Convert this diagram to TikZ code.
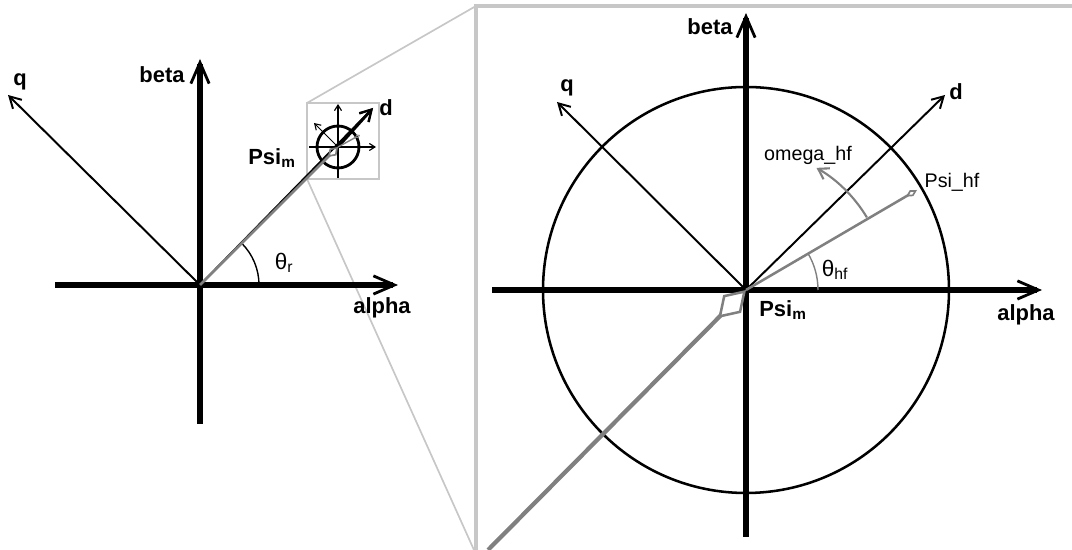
\documentclass[tikz,border=0pt]{standalone}
\usepackage{fontspec}
\setmainfont{Liberation Sans}
\usetikzlibrary{arrows.meta,calc}

\tikzset{
  axis/.style={line width=3.6pt,-{Straight Barb[length=15pt,width=13pt,line width=2pt]}},
  thinaxis/.style={line width=1.4pt,-{Straight Barb[length=8pt,width=9pt,line width=1.4pt]}},
  miniaxis/.style={line width=0.8pt,-{Straight Barb[length=4pt,width=5pt,line width=0.8pt]}},
  flux/.style={draw=gray,line width=1.8pt,-{Diamond[open,length=9pt,width=5pt,line width=1.2pt]}},
  zoomline/.style={draw=black!22,line width=1.2pt},
  lbl/.style={font=\bfseries\fontsize{15.6}{18}\selectfont},
  smalllbl/.style={font=\fontsize{14}{16}\selectfont},
  anglbl/.style={font=\fontsize{16}{18}\selectfont},
}

\begin{document}
\begin{tikzpicture}[x=0.025cm,y=0.025cm]
    \useasboundingbox (0,0) rectangle (1072,550);
    \coordinate (o1) at (200,265);
    \coordinate (s) at (338,403);
    \coordinate (o2) at (746,260);
    \coordinate (sbl) at (307,371);
    \coordinate (str) at (379,447);
    \coordinate (bbl) at (476,0);
    \coordinate (btl) at (476,544);
    \coordinate (btr) at (1072,544);
    \coordinate (zb) at (474,0);
    \draw[zoomline] (sbl) rectangle (str);
    \draw[zoomline] (sbl|-str) -- (btl);
    \draw[zoomline] (sbl) -- (zb);
    \draw[zoomline,line width=2.2pt] (bbl) -- (btl) -- (btr);
    \coordinate (a1l) at (55,265);
    \coordinate (a1r) at (398,265);
    \coordinate (b1b) at (200,126);
    \coordinate (b1t) at (200,491);
    \coordinate (q1) at (8,455);
    \coordinate (d1) at (373,442);
    \draw[axis] (a1l) -- (a1r);
    \draw[axis] (b1b) -- (b1t);
    \draw[thinaxis] (o1) -- (q1);
    \draw[thinaxis] (o1) -- (d1);
    \draw[line width=1pt] (o1) ++(59,0) arc[start angle=0,end angle=45,radius=59];
    \draw[line width=2pt] (s) circle[radius=21];
    \draw[miniaxis] (309,403) -- (376,403);
    \draw[miniaxis] (338,372) -- (338,446);
    \draw[miniaxis,line width=0.6pt] (s) -- (314,427);
    \draw[thinaxis,line width=2pt] (s) -- (d1);
    \draw[flux,line width=1pt,-{Diamond[open,length=4pt,width=3pt,line width=0.6pt]}] (s) -- (360,415);
    \draw[flux,line width=2pt,-{Diamond[open,length=10pt,width=7pt,line width=1.2pt]}] (o1) -- (s);
    \node[lbl] (alpha1) at (382,242) {alpha};
    \node[lbl] (beta1) at (162,475) {beta};
    \node[lbl] (qlbl1) at (20,468) {q};
    \node[lbl] (dlbl1) at (386,442) {d};
    \node[lbl] (psim1) at (272,392) {Psi\textsubscript{m}};
    \node[anglbl] (thr) at (284,287) {θ\textsubscript{r}};
    \coordinate (a2l) at (492,260);
    \coordinate (a2r) at (1042,260);
    \coordinate (b2b) at (746,13);
    \coordinate (b2t) at (746,537);
    \coordinate (q2) at (557,448);
    \coordinate (d2) at (945,455);
    \coordinate (p2) at (917,360);
    \coordinate (pm0) at (488,0);
    \draw[line width=1.8pt] (o2) circle[radius=203];
    \draw[axis] (a2l) -- (a2r);
    \draw[axis] (b2b) -- (b2t);
    \draw[thinaxis] (o2) -- (q2);
    \draw[thinaxis] (o2) -- (d2);
    \draw[flux,line width=3pt,-{Diamond[open,length=28pt,width=18pt,line width=1.8pt]}] (pm0) -- (o2);
    \draw[flux] (o2) -- (p2);
    \draw[line width=1pt,draw=gray] (o2) ++(72,0) arc[start angle=0,end angle=30.6,radius=72];
    \draw[draw=gray,line width=1.5pt,-{Straight Barb[length=7pt,width=9pt,line width=1.5pt]}] (o2) ++(31:141) arc[start angle=31,end angle=60,radius=141];
    \node[lbl] (alpha2) at (1026,235) {alpha};
    \node[lbl] (beta2) at (710,523) {beta};
    \node[lbl] (qlbl2) at (567,462) {q};
    \node[lbl] (dlbl2) at (956,458) {d};
    \node[lbl] (psim2) at (783,240) {Psi\textsubscript{m}};
    \node[smalllbl] (psihf) at (952,368) {Psi\_hf};
    \node[smalllbl] (omegahf) at (808,395) {omega\_hf};
    \node[anglbl] (thhf) at (835,280) {θ\textsubscript{hf}};
\end{tikzpicture}
\end{document}
